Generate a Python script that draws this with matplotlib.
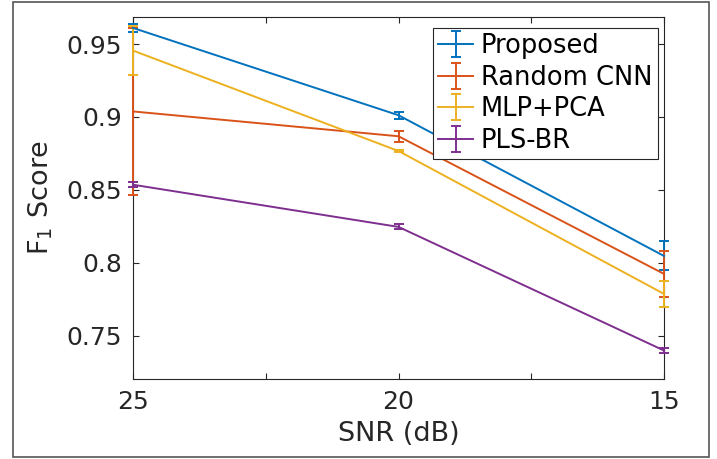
import matplotlib
matplotlib.use("Agg")
import matplotlib.pyplot as plt
from matplotlib.patches import Rectangle

snr = [25, 20, 15]
series_names = ["Proposed", "Random CNN", "MLP+PCA", "PLS-BR"]
proposed_mean = [0.9610, 0.9012, 0.8048]
proposed_err = [0.0030, 0.0024, 0.0099]
random_cnn_mean = [0.9038, 0.8868, 0.7925]
random_cnn_err = [0.0572, 0.0038, 0.0158]
mlp_pca_mean = [0.9455, 0.8767, 0.7788]
mlp_pca_err = [0.0167, 0.0008, 0.0089]
pls_br_mean = [0.8536, 0.8247, 0.7400]
pls_br_err = [0.0017, 0.0017, 0.0014]

xticks = [25, 22.5, 20, 17.5, 15]
xtick_labels = ["25", "", "20", "", "15"]
yticks = [0.75, 0.8, 0.85, 0.9, 0.95]
ytick_labels = ["0.75", "0.8", "0.85", "0.9", "0.95"]

colors = ["#0072BD", "#D95319", "#EDB120", "#7E2F8E"]
means = [proposed_mean, random_cnn_mean, mlp_pca_mean, pls_br_mean]
errs = [proposed_err, random_cnn_err, mlp_pca_err, pls_br_err]

plt.rcParams["font.family"] = ["DejaVu Sans"]
plt.rcParams["mathtext.fontset"] = "dejavusans"

fig = plt.figure(figsize=(7.17, 4.59), dpi=100)
fig.patch.set_facecolor("white")
ax = fig.add_axes([133/717, 1-379/459, (664-133)/717, (379-17)/459])

for name, m, e, c in zip(series_names, means, errs, colors):
    ax.errorbar(snr, m, yerr=e, color=c, lw=1.4, elinewidth=1.4,
                capsize=3.5, capthick=1.4, label=name, clip_on=False, zorder=3)

ax.set_xlim(25, 15)
ax.set_ylim(0.7205, 0.9685)
ax.set_xticks(xticks)
ax.set_xticklabels(xtick_labels)
ax.set_yticks(yticks)
ax.set_yticklabels(ytick_labels)
ax.tick_params(direction="in", length=4, width=0.8, top=True, right=True,
               labelsize=18, colors="#262626", pad=8)
for s in ax.spines.values():
    s.set_color("#262626")
    s.set_linewidth(0.8)
ax.set_xlabel("SNR (dB)", fontsize=19.5, color="#262626", labelpad=5)
ax.set_ylabel("F$_1$ Score", fontsize=19.5, color="#262626", labelpad=8)

leg = ax.legend(loc="upper right", bbox_to_anchor=(0.988, 0.97), borderaxespad=0,
                fontsize=18.5, handlelength=1.36, handletextpad=0.31,
                labelspacing=0.22, borderpad=0.2, fancybox=False,
                edgecolor="#262626", framealpha=1)
leg.get_frame().set_linewidth(0.8)

fig.add_artist(Rectangle((13/717, 2/459), (709-13)/717, (457-2)/459,
                         transform=fig.transFigure, fill=False,
                         edgecolor="#555555", lw=1.2))

fig.savefig("out.png", dpi=100)
